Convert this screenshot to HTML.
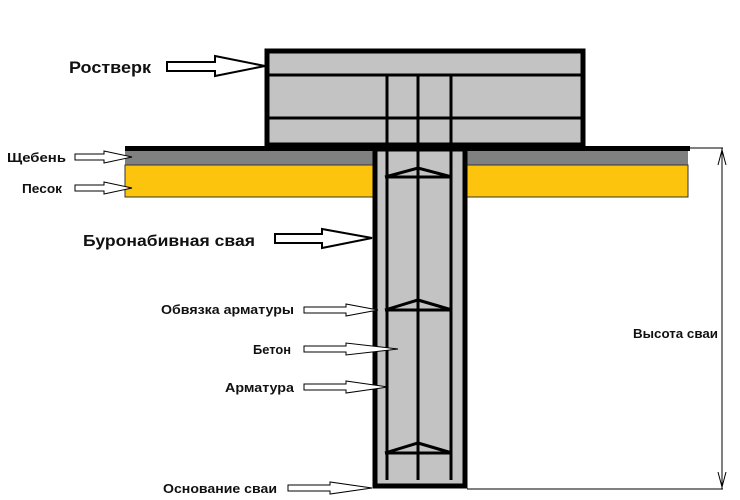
<!DOCTYPE html>
<html><head><meta charset="utf-8"><style>
html,body{margin:0;padding:0;background:#fff;}
svg{display:block;}
text{font-family:"Liberation Sans",sans-serif;font-weight:bold;fill:#111;}
</style></head><body>
<svg width="740" height="500" viewBox="0 0 740 500" xmlns="http://www.w3.org/2000/svg">
<rect x="125" y="150" width="563" height="15" fill="#808080"/>
<rect x="125" y="165" width="563" height="32" fill="#fcc40c" stroke="#333" stroke-width="1"/>
<rect x="125" y="146" width="565" height="5" fill="#000"/>
<rect x="267" y="51" width="316" height="94" fill="#c3c3c3" stroke="#000" stroke-width="5"/>
<line x1="267" y1="75" x2="583" y2="75" stroke="#000" stroke-width="3"/>
<line x1="267" y1="118" x2="583" y2="118" stroke="#000" stroke-width="3"/>
<rect x="375" y="149" width="90" height="337" fill="#c3c3c3" stroke="#000" stroke-width="5"/>
<line x1="373" y1="148" x2="467" y2="148" stroke="#000" stroke-width="3"/>
<g stroke="#000" stroke-width="3">
<line x1="387" y1="75" x2="387" y2="480"/>
<line x1="418" y1="75" x2="418" y2="480"/>
<line x1="451" y1="75" x2="451" y2="480"/>
<polyline points="385,177 418,168 452,177 385,177" fill="none"/>
<polyline points="385,310 418,300 452,310 385,310" fill="none"/>
<polyline points="385,453 418,443 452,453 385,453" fill="none"/>
</g>
<g stroke="#000" stroke-width="1" fill="none">
<line x1="690" y1="148" x2="723" y2="148"/>
<line x1="467" y1="489" x2="723" y2="489"/>
<line x1="722" y1="148" x2="722" y2="489"/>
<polyline points="718,165 722,150 726,165"/>
<polyline points="718,472 722,487 726,472"/>
</g>
<g fill="#fff" stroke="#000" stroke-width="2">
<polygon points="167,62 215,62 215,56 265,66 215,76 215,71 167,71"/>
<polygon points="322,234 322,229 372,238 322,248 322,243 275,243 275,234"/>
</g>
<g fill="#fff" stroke="#000" stroke-width="1">
<polygon points="75,154 104,154 104,151 132,157 104,163 104,160 75,160"/>
<polygon points="75,185 104,185 104,182 132,188 104,194 104,191 75,191"/>
<polygon points="304,307 346,307 346,304 378,310 346,316 346,313 304,313"/>
<polygon points="304,346 346,346 346,343 398,349 346,355 346,352 304,352"/>
<polygon points="304,384 346,384 346,381 388,387 346,393 346,390 304,390"/>
<polygon points="288,485 330,485 330,482 372,488 330,494 330,491 288,491"/>
</g>
<text x="69" y="73" font-size="17" textLength="82" lengthAdjust="spacingAndGlyphs">Ростверк</text>
<text x="7" y="162" font-size="13" textLength="59" lengthAdjust="spacingAndGlyphs">Щебень</text>
<text x="22" y="193" font-size="13" textLength="40" lengthAdjust="spacingAndGlyphs">Песок</text>
<text x="83" y="246" font-size="16" textLength="172" lengthAdjust="spacingAndGlyphs">Буронабивная свая</text>
<text x="161" y="314" font-size="13" textLength="133" lengthAdjust="spacingAndGlyphs">Обвязка арматуры</text>
<text x="253" y="354" font-size="13" textLength="38" lengthAdjust="spacingAndGlyphs">Бетон</text>
<text x="225" y="392" font-size="13" textLength="69" lengthAdjust="spacingAndGlyphs">Арматура</text>
<text x="163" y="493" font-size="13" textLength="114" lengthAdjust="spacingAndGlyphs">Основание сваи</text>
<text x="633" y="338" font-size="13" textLength="85" lengthAdjust="spacingAndGlyphs">Высота сваи</text>
</svg>
</body></html>
